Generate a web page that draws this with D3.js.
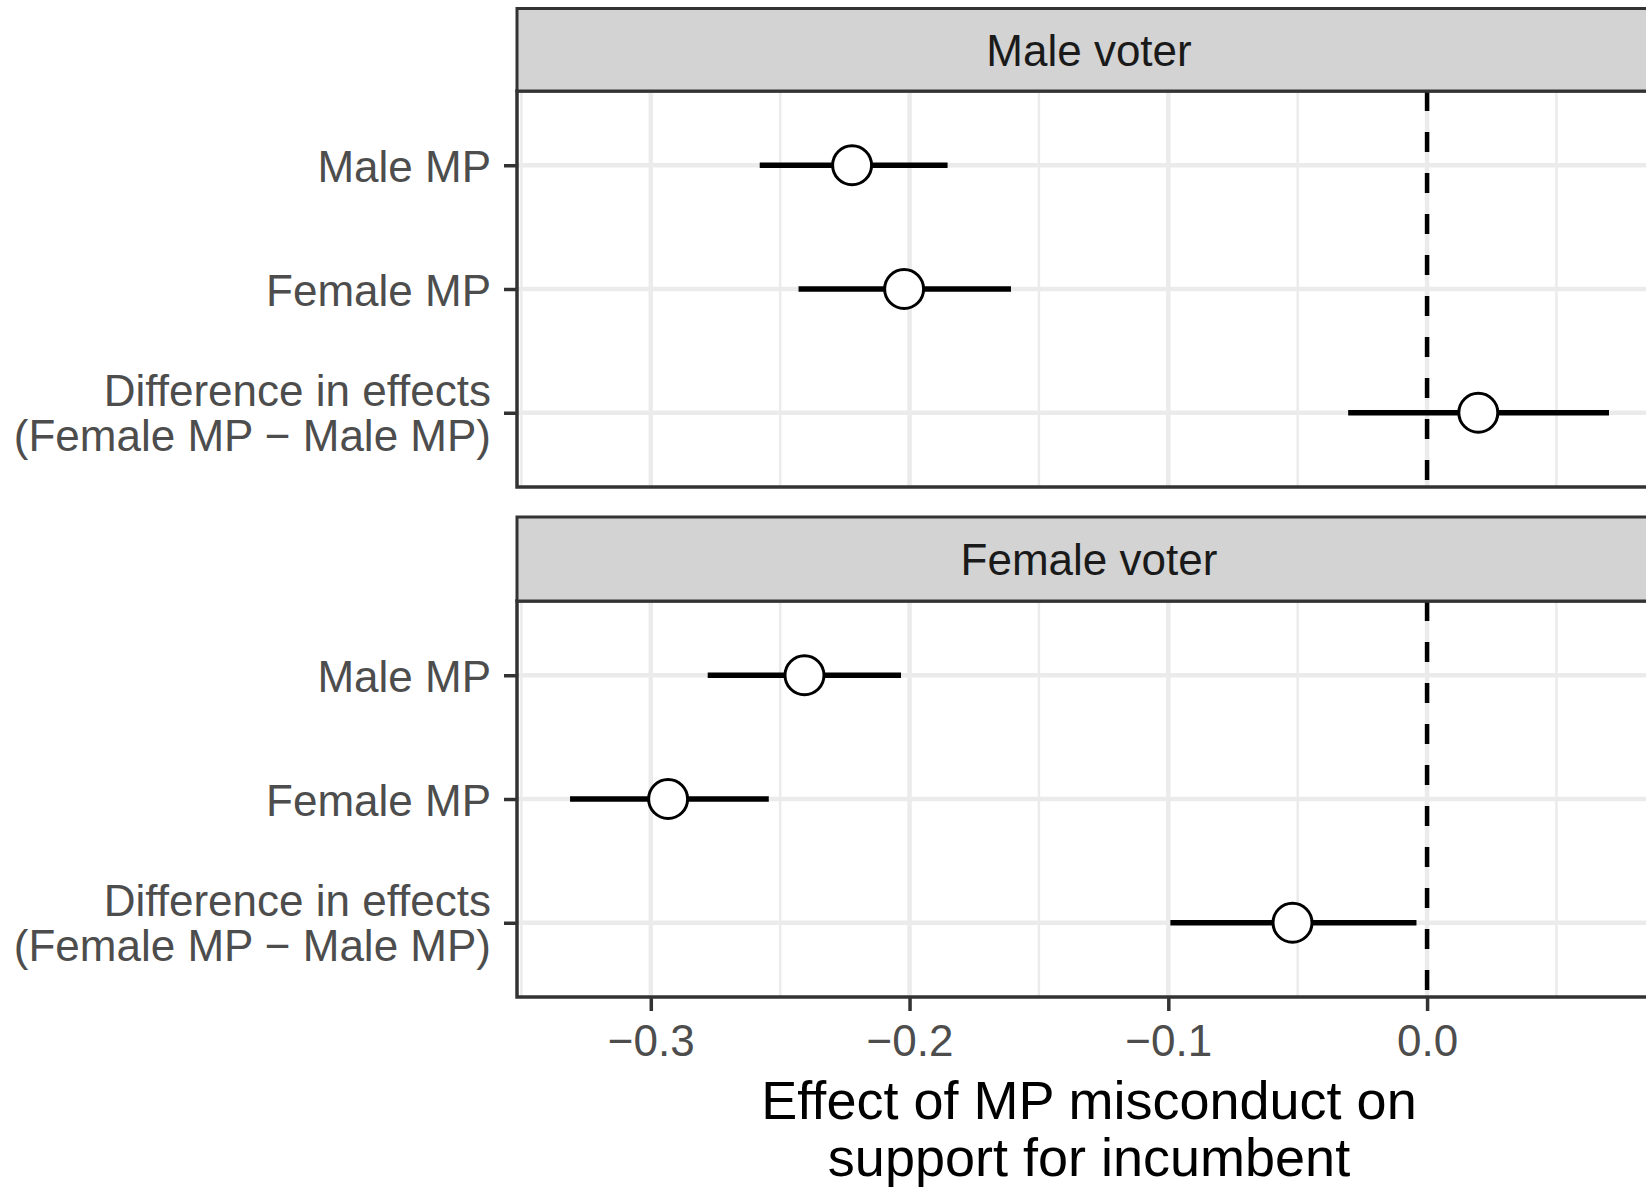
<!DOCTYPE html>
<html>
<head>
<meta charset="utf-8">
<script src="https://cdn.jsdelivr.net/npm/d3@7"></script>
<style>
  html, body { margin: 0; padding: 0; background: #fff; }
  svg { display: block; font-family: "Liberation Sans", Arial, Helvetica, sans-serif; }
</style>
</head>
<body>
<svg id="chart" width="1646" height="1190"></svg>
<script>
// ---- data ----
const voterGroups = ["Male voter", "Female voter"];
const mpCategories = ["Male MP", "Female MP", "Difference in effects\n(Female MP \u2212 Male MP)"];
const estMaleVoter  = [-0.2222, -0.2021, 0.0198];
const lowMaleVoter  = [-0.2579, -0.2429, -0.0305];
const highMaleVoter = [-0.1853, -0.1608, 0.0703];
const estFemaleVoter  = [-0.2406, -0.2933, -0.0520];
const lowFemaleVoter  = [-0.2780, -0.3312, -0.0992];
const highFemaleVoter = [-0.2033, -0.2544, -0.0041];
const xMajorTicks = [-0.3, -0.2, -0.1, 0.0];
const xMinorTicks = [-0.35, -0.25, -0.15, -0.05, 0.05];
const xDomain = [-0.3517, 0.0904];
const referenceValue = 0;
const xTitleLines = ["Effect of MP misconduct on", "support for incumbent"];

const seriesByVoter = [
  { est: estMaleVoter, low: lowMaleVoter, high: highMaleVoter },
  { est: estFemaleVoter, low: lowFemaleVoter, high: highFemaleVoter }
];

// ---- layout ----
const panelLeft = 517, panelRight = 1661;
const panels = [
  { stripTop: 8.5, top: 91, bottom: 487 },
  { stripTop: 517, top: 601, bottom: 997 }
];
const fontSize = 44;

const svg = d3.select("#chart");
const x = d3.scaleLinear().domain(xDomain).range([panelLeft, panelRight]);

panels.forEach((p, i) => {
  const g = svg.append("g");
  const y = d3.scalePoint().domain(mpCategories).range([p.top, p.bottom]).padding(0.6);
  const s = seriesByVoter[i];
  const data = mpCategories.map((c, k) => ({ cat: c, est: s.est[k], low: s.low[k], high: s.high[k] }));

  g.append("rect").attr("x", panelLeft).attr("y", p.top)
    .attr("width", panelRight - panelLeft).attr("height", p.bottom - p.top)
    .attr("fill", "#fff");

  g.selectAll(".minor").data(xMinorTicks).join("line")
    .attr("x1", d => x(d)).attr("x2", d => x(d))
    .attr("y1", p.top).attr("y2", p.bottom)
    .attr("stroke", "#ebebeb").attr("stroke-width", 2.5);
  g.selectAll(".majorx").data(xMajorTicks).join("line")
    .attr("x1", d => x(d)).attr("x2", d => x(d))
    .attr("y1", p.top).attr("y2", p.bottom)
    .attr("stroke", "#ebebeb").attr("stroke-width", 4.5);
  g.selectAll(".majory").data(mpCategories).join("line")
    .attr("x1", panelLeft).attr("x2", panelRight)
    .attr("y1", d => y(d)).attr("y2", d => y(d))
    .attr("stroke", "#ebebeb").attr("stroke-width", 4.5);

  g.append("line")
    .attr("x1", x(referenceValue)).attr("x2", x(referenceValue))
    .attr("y1", p.top).attr("y2", p.bottom)
    .attr("stroke", "#000").attr("stroke-width", 4.5)
    .attr("stroke-dasharray", "20,21");

  g.selectAll(".err").data(data).join("line")
    .attr("x1", d => x(d.low)).attr("x2", d => x(d.high))
    .attr("y1", d => y(d.cat)).attr("y2", d => y(d.cat))
    .attr("stroke", "#000").attr("stroke-width", 5.5);

  g.selectAll(".pt").data(data).join("circle")
    .attr("cx", d => x(d.est)).attr("cy", d => y(d.cat)).attr("r", 19.5)
    .attr("fill", "#fff").attr("stroke", "#000").attr("stroke-width", 3);

  g.append("rect").attr("x", panelLeft).attr("y", p.top)
    .attr("width", panelRight - panelLeft).attr("height", p.bottom - p.top)
    .attr("fill", "none").attr("stroke", "#333").attr("stroke-width", 3.5);

  g.append("rect").attr("x", panelLeft).attr("y", p.stripTop)
    .attr("width", panelRight - panelLeft).attr("height", p.top - p.stripTop)
    .attr("fill", "#d3d3d3").attr("stroke", "#333").attr("stroke-width", 3);
  g.append("text")
    .attr("x", (panelLeft + panelRight) / 2)
    .attr("y", p.stripTop + (p.top - p.stripTop) / 2 + 16)
    .attr("text-anchor", "middle")
    .attr("font-size", fontSize).attr("fill", "#1a1a1a")
    .text(voterGroups[i]);

  const yAxis = g.append("g").attr("transform", `translate(${panelLeft},0)`)
    .call(d3.axisLeft(y).tickSize(13).tickPadding(13));
  yAxis.select(".domain").remove();
  yAxis.selectAll(".tick line").attr("stroke", "#333").attr("stroke-width", 3.5);
  yAxis.selectAll(".tick text").each(function(d) {
    const t = d3.select(this);
    const lines = d.split("\n");
    t.text(null).attr("dy", null).attr("x", -26)
      .attr("font-size", fontSize).attr("fill", "#4d4d4d")
      .attr("font-family", "Liberation Sans, Arial, sans-serif")
      .attr("text-anchor", "end");
    if (lines.length === 1) {
      t.attr("y", 16).text(lines[0]);
    } else {
      lines.forEach((ln, j) => {
        t.append("tspan").attr("x", -26).attr("y", -7 + j * 45).text(ln);
      });
    }
  });

  if (i === panels.length - 1) {
    const xAxis = g.append("g").attr("transform", `translate(0,${p.bottom})`)
      .call(d3.axisBottom(x).tickValues(xMajorTicks).tickFormat(d3.format(".1f")).tickSize(14));
    xAxis.select(".domain").remove();
    xAxis.selectAll(".tick line").attr("stroke", "#333").attr("stroke-width", 3.5);
    xAxis.selectAll(".tick text")
      .attr("y", 59).attr("dy", null)
      .attr("font-size", fontSize).attr("fill", "#4d4d4d")
      .attr("font-family", "Liberation Sans, Arial, sans-serif");
  }
});

svg.append("text")
  .attr("x", (panelLeft + panelRight) / 2)
  .attr("text-anchor", "middle")
  .attr("font-size", 54).attr("fill", "#000")
  .selectAll("tspan").data(xTitleLines).join("tspan")
  .attr("x", (panelLeft + panelRight) / 2)
  .attr("y", (d, k) => 1119 + k * 57)
  .text(d => d);
</script>
</body>
</html>
